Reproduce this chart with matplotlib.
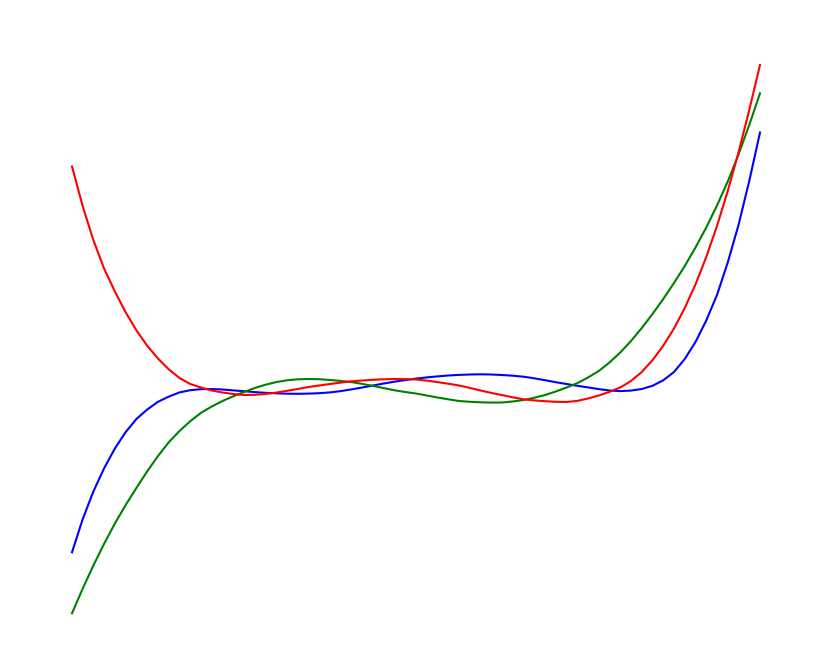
import numpy as np
import matplotlib
matplotlib.use("Agg")
import matplotlib.pyplot as plt

# sample positions along the horizontal axis
x = np.linspace(-1.0, 1.0, 65)

# values (vertical units)
blue_py = [552.3, 519.0, 491.2, 468.0, 448.3, 432.0, 418.9, 409.5, 401.8, 396.6,
           392.4, 390.2, 389.2, 389.0, 389.5, 390.4, 391.2, 392.1, 392.8, 393.3,
           393.7, 393.8, 393.6, 393.2, 392.4, 391.1, 389.4, 387.5, 385.5, 383.5,
           381.7, 380.1, 378.6, 377.4, 376.4, 375.5, 374.9, 374.5, 374.3, 374.5,
           375.0, 375.7, 376.7, 378.3, 380.2, 382.2, 384.0, 385.8, 387.4, 389.1,
           390.5, 391.1, 390.6, 389.0, 385.8, 380.3, 372.0, 359.0, 342.0, 320.5,
           295.0, 262.5, 225.0, 181.0, 132.5]

green_py = [613.3, 588.5, 565.2, 543.5, 523.3, 504.8, 487.8, 471.3, 456.0, 442.3,
            431.0, 421.2, 412.8, 406.5, 401.0, 396.3, 392.0, 388.0, 384.7, 382.1,
            380.3, 379.3, 379.0, 379.2, 380.0, 380.9, 382.1, 383.9, 385.9, 388.1,
            390.3, 392.0, 393.5, 395.5, 397.5, 399.3, 401.0, 401.8, 402.3, 402.6,
            402.5, 401.5, 400.0, 397.8, 395.0, 391.5, 387.5, 383.2, 377.5, 371.0,
            362.5, 352.5, 341.0, 328.0, 314.0, 299.0, 283.0, 266.0, 247.5, 227.5,
            205.5, 181.5, 154.5, 125.0, 93.3]

red_py = [166.5, 206.5, 240.5, 269.0, 291.7, 312.5, 330.5, 345.8, 358.6, 369.3,
          378.0, 384.0, 387.5, 390.5, 392.5, 394.0, 395.0, 394.8, 394.0, 392.6,
          390.8, 389.0, 387.0, 385.5, 384.0, 382.6, 381.3, 380.5, 379.8, 379.3,
          379.0, 379.1, 379.5, 380.6, 382.1, 383.7, 385.5, 387.9, 390.5, 392.9,
          395.1, 397.3, 399.3, 400.4, 401.2, 401.8, 402.0, 400.9, 398.5, 395.5,
          391.8, 387.5, 381.0, 372.0, 360.2, 345.7, 328.5, 308.0, 284.4, 257.0,
          226.0, 191.0, 152.5, 110.0, 65.0]

fig = plt.figure(figsize=(8.2, 6.48), dpi=100)
ax = fig.add_axes([0, 0, 1, 1])
ax.plot(x, blue_py, color="b", lw=1.5)
ax.plot(x, green_py, color="g", lw=1.5)
ax.plot(x, red_py, color="r", lw=1.5)
ax.set_xlim(-416 / 344, 404 / 344)
ax.set_ylim(648, 0)
ax.axis("off")
fig.savefig("out.png", dpi=100)
